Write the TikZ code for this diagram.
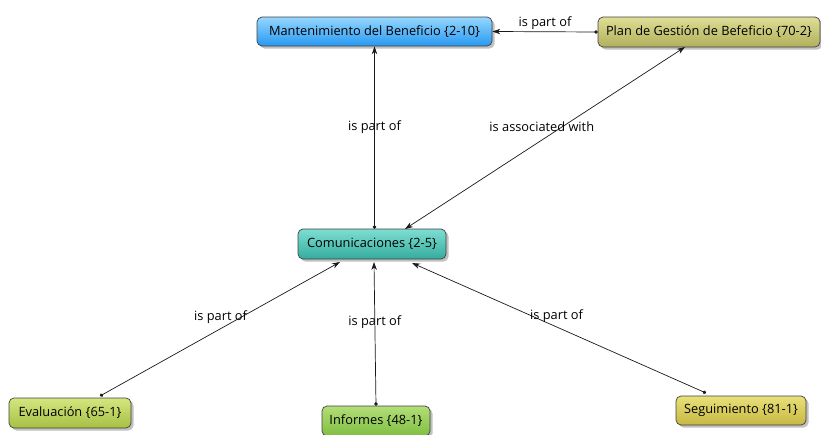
\documentclass[tikz,border=0pt]{standalone}
\usepackage{fontspec}
\setmainfont{Open Sans}
\usetikzlibrary{arrows.meta,shadows}
\begin{document}
\begin{tikzpicture}[x=1pt,y=-1pt,
  concept/.style={draw=black!75, line width=0.7pt, rounded corners=5pt,
    inner sep=0pt, align=center, font=\fontsize{12.8}{15}\selectfont,
    drop shadow={shadow xshift=2.5pt, shadow yshift=-2.5pt, fill=black!35, opacity=0.7}},
  link/.style={line width=0.7pt, draw=black!90,
    {Circle[length=3.5pt]}-{Stealth[length=8pt,width=5.5pt]}},
  linkboth/.style={line width=0.7pt, draw=black!90,
    {Stealth[length=8pt,width=5.5pt]}-{Stealth[length=8pt,width=5.5pt]}},
  lbl/.style={font=\fontsize{12.8}{15}\selectfont, inner sep=1pt}]
\useasboundingbox (0,0) rectangle (821,434);

% concepts
\node[concept, minimum width=235pt, minimum height=29pt,
  top color={rgb,255:red,150;green,215;blue,255}, bottom color={rgb,255:red,38;green,152;blue,240}]
  (man) at (374.5,31.5) {Mantenimiento del Beneficio {\{}2-10{\}}};
\node[concept, minimum width=222pt, minimum height=30pt,
  top color={rgb,255:red,222;green,222;blue,150}, bottom color={rgb,255:red,176;green,176;blue,92}]
  (plan) at (709,32) {Plan de Gestión de Befeficio {\{}70-2{\}}};
\node[concept, minimum width=148pt, minimum height=30pt,
  top color={rgb,255:red,126;green,222;blue,210}, bottom color={rgb,255:red,52;green,172;blue,158}]
  (com) at (372,244) {Comunicaciones {\{}2-5{\}}};
\node[concept, minimum width=122pt, minimum height=30pt,
  top color={rgb,255:red,212;green,230;blue,128}, bottom color={rgb,255:red,166;green,192;blue,66}]
  (eva) at (70,413) {Evaluación {\{}65-1{\}}};
\node[concept, minimum width=108pt, minimum height=30pt,
  top color={rgb,255:red,178;green,222;blue,120}, bottom color={rgb,255:red,128;green,190;blue,66}]
  (inf) at (376,421) {Informes {\{}48-1{\}}};
\node[concept, minimum width=130pt, minimum height=29pt,
  top color={rgb,255:red,232;green,224;blue,122}, bottom color={rgb,255:red,200;green,184;blue,66}]
  (seg) at (741,410.5) {Seguimiento {\{}81-1{\}}};

% connection end points on the concept borders
\coordinate (ca) at (405,229);
\coordinate (pa) at (685,47);
\coordinate (ea) at (100,396);
\coordinate (ce) at (340,262);
\coordinate (ci) at (374,262);
\coordinate (cs) at (412,263);
\coordinate (sa) at (706,393);

% connections
\draw[link] (plan.west) -- (man.east) node[lbl, midway, above=1pt] {is part of};
\draw[link] (com.north -| man.south) -- (man.south) node[lbl, pos=0.557] {is part of};
\draw[linkboth] (ca) -- (pa) node[lbl, pos=0.56, xshift=-20pt] {is associated with};
\draw[link] (ea) -- (ce) node[lbl, pos=0.59, xshift=-21pt] {is part of};
\draw[link] (inf.north) -- (ci) node[lbl, pos=0.58] {is part of};
\draw[link] (sa) -- (cs) node[lbl, pos=0.59, xshift=24pt] {is part of};
\end{tikzpicture}
\end{document}
